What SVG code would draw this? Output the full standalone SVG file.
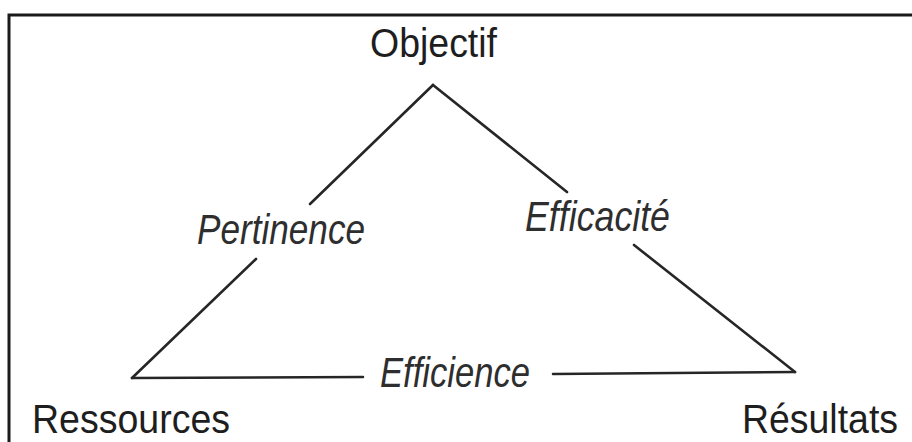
<svg xmlns="http://www.w3.org/2000/svg" width="912" height="442" viewBox="0 0 912 442">
  <style>
    .lbl { font-family: "Liberation Sans", Arial, sans-serif; font-size: 40px; fill: #1e1e1e; }
    .it { font-style: italic; font-size: 43px; fill: #2e2e2e; }
    .edge { stroke: #262626; stroke-width: 2.6; fill: none; stroke-linecap: round; }
    .frame { stroke: #1a1a1a; stroke-width: 3; fill: none; }
  </style>
  <rect width="912" height="442" fill="#ffffff"/>
  <path class="frame" d="M9,442 V15 H912"/>
  <g id="connectors">
    <line class="edge" x1="433" y1="85" x2="310" y2="204"/>
    <line class="edge" x1="256" y1="259" x2="132" y2="378"/>
    <line class="edge" x1="433" y1="85" x2="567" y2="192"/>
    <line class="edge" x1="634" y1="245" x2="795" y2="372"/>
    <line class="edge" x1="132" y1="378" x2="363" y2="377"/>
    <line class="edge" x1="553" y1="374" x2="795" y2="372"/>
    <text class="lbl it" x="197" y="244" textLength="168" lengthAdjust="spacingAndGlyphs">Pertinence</text>
    <text class="lbl it" x="525" y="231" textLength="145" lengthAdjust="spacingAndGlyphs">Efficacité</text>
    <text class="lbl it" x="380" y="387" textLength="150" lengthAdjust="spacingAndGlyphs">Efficience</text>
  </g>
  <g id="objectif">
    <text class="lbl" x="370" y="57" textLength="127" lengthAdjust="spacingAndGlyphs">Objectif</text>
  </g>
  <g id="ressources">
    <text class="lbl" x="32" y="433" textLength="198" lengthAdjust="spacingAndGlyphs">Ressources</text>
  </g>
  <g id="resultats">
    <text class="lbl" x="742" y="433" textLength="156" lengthAdjust="spacingAndGlyphs">Résultats</text>
  </g>
</svg>
